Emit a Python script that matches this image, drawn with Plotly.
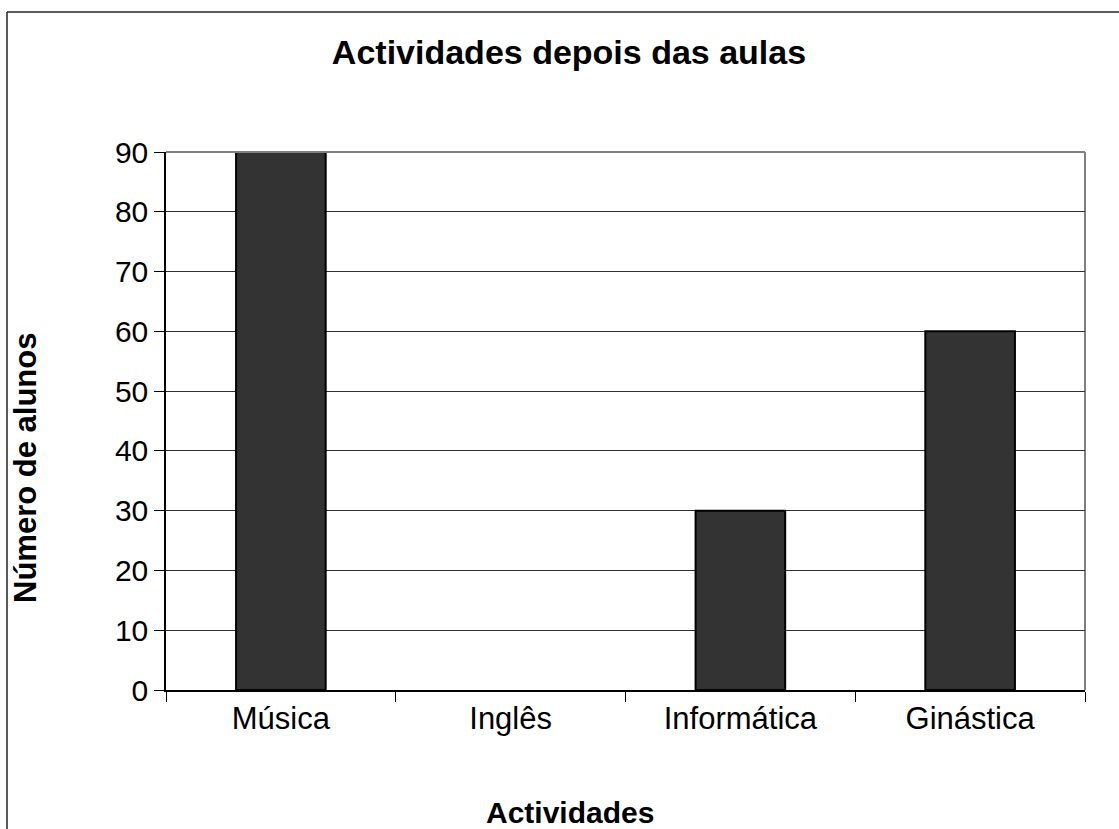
import plotly.graph_objects as go

categories = ["Música", "Inglês", "Informática", "Ginástica"]
values = [90, 0, 30, 60]
y_ticks = [0, 10, 20, 30, 40, 50, 60, 70, 80, 90]

W, H = 1119, 829
L, R, T, B = 166, 1085, 152, 690
pw, ph = R - L, B - T

def px_x(x):
    return (x - L) / pw

def px_y(y):
    return (B - y) / ph

font_family = "Liberation Sans, Arial, sans-serif"

fig = go.Figure(
    go.Bar(
        x=categories,
        y=values,
        width=0.39,
        marker=dict(
            color="#333333",
            line=dict(color="#000000", width=[2 if v > 0 else 0 for v in values]),
        ),
    )
)

fig.update_layout(
    width=W,
    height=H,
    margin=dict(l=L, r=W - R, t=T, b=H - B, autoexpand=False),
    paper_bgcolor="white",
    plot_bgcolor="white",
    showlegend=False,
    font=dict(family=font_family, color="black", size=31),
    title=dict(
        text="<b>Actividades depois das aulas</b>",
        x=569 / W,
        xanchor="center",
        y=1 - 52 / H,
        yanchor="middle",
        font=dict(size=34, family=font_family, color="black"),
    ),
)

fig.update_xaxes(
    type="category",
    showline=True,
    linecolor="black",
    linewidth=1.5,
    ticks="outside",
    tickson="boundaries",
    ticklen=10,
    tickcolor="black",
    tickfont=dict(size=31),
    showgrid=False,
)

fig.update_yaxes(
    range=[0, 90],
    tickvals=y_ticks,
    showline=True,
    linecolor="black",
    linewidth=1.5,
    ticks="outside",
    ticklen=10,
    tickcolor="black",
    tickfont=dict(size=30),
    showgrid=True,
    gridcolor="#303030",
    gridwidth=1,
    zeroline=False,
)

# axis titles (placed as in the reference)
fig.add_annotation(
    text="<b>Actividades</b>", xref="paper", yref="paper",
    x=px_x(570), y=px_y(812), xanchor="center", yanchor="middle",
    showarrow=False, font=dict(size=30, family=font_family, color="black"),
)
fig.add_annotation(
    text="<b>Número de alunos</b>", xref="paper", yref="paper",
    x=px_x(25), y=px_y(468), xanchor="center", yanchor="middle",
    textangle=-90, showarrow=False,
    font=dict(size=31, family=font_family, color="black"),
)

# plot-area border (gray, top and right)
fig.add_shape(type="line", xref="paper", yref="paper", x0=0, x1=1, y0=1, y1=1,
              line=dict(color="#808080", width=2), layer="above")
fig.add_shape(type="line", xref="paper", yref="paper", x0=1, x1=1, y0=0, y1=1,
              line=dict(color="#808080", width=2), layer="below")

# outer chart border (left and top, extending past the image)
fig.add_shape(type="line", xref="paper", yref="paper",
              x0=px_x(7), x1=px_x(7), y0=px_y(12), y1=px_y(H + 20),
              line=dict(color="#222222", width=1.5))
fig.add_shape(type="line", xref="paper", yref="paper",
              x0=px_x(7), x1=px_x(W + 20), y0=px_y(12), y1=px_y(12),
              line=dict(color="#222222", width=1.5))

fig.write_html(
    "out.html",
    config={"displayModeBar": False},
    post_script="document.body.style.margin='0';document.body.style.overflow='hidden';",
)
